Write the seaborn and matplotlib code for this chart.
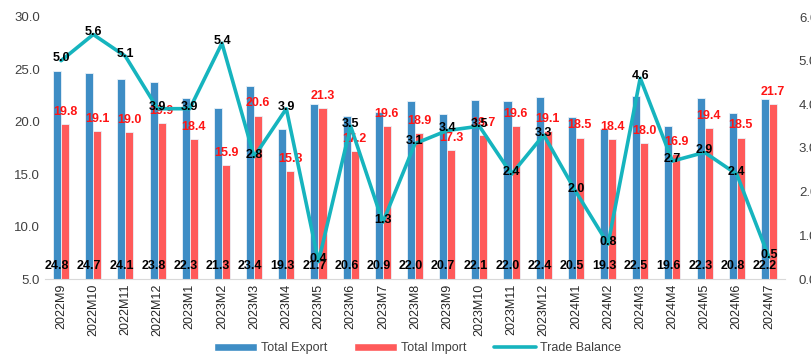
import numpy as np
import pandas as pd
import matplotlib
matplotlib.use('Agg')
import matplotlib.pyplot as plt
import seaborn as sns
from matplotlib.patches import Patch
from matplotlib.lines import Line2D

periods = ['2022M9', '2022M10', '2022M11', '2022M12', '2023M1', '2023M2', '2023M3', '2023M4',
           '2023M5', '2023M6', '2023M7', '2023M8', '2023M9', '2023M10', '2023M11', '2023M12',
           '2024M1', '2024M2', '2024M3', '2024M4', '2024M5', '2024M6', '2024M7']
total_export = [24.8, 24.7, 24.1, 23.8, 22.3, 21.3, 23.4, 19.3, 21.7, 20.6, 20.9, 22.0,
                20.7, 22.1, 22.0, 22.4, 20.5, 19.3, 22.5, 19.6, 22.3, 20.8, 22.2]
total_import = [19.8, 19.1, 19.0, 19.9, 18.4, 15.9, 20.6, 15.3, 21.3, 17.2, 19.6, 18.9,
                17.3, 18.7, 19.6, 19.1, 18.5, 18.4, 18.0, 16.9, 19.4, 18.5, 21.7]
trade_balance = [5.0, 5.6, 5.1, 3.9, 3.9, 5.4, 2.8, 3.9, 0.4, 3.5, 1.3, 3.1,
                 3.4, 3.5, 2.4, 3.3, 2.0, 0.8, 4.6, 2.7, 2.9, 2.4, 0.5]

c_exp = '#3E8DC5'
c_imp = '#FF5A5A'
c_bal = '#16B4BE'

sns.set_style('white')
plt.rcParams['font.family'] = ['Liberation Sans', 'DejaVu Sans']

df = pd.DataFrame({
    'Period': periods * 2,
    'Value': total_export + total_import,
    'Series': ['Total Export'] * len(periods) + ['Total Import'] * len(periods),
})

fig = plt.figure(figsize=(8.11, 3.62), dpi=100)
ax = fig.add_axes([45 / 811, 1 - 279 / 362, 740 / 811, 262 / 362])

sns.barplot(data=df, x='Period', y='Value', hue='Series', palette=[c_exp, c_imp],
            saturation=1, width=0.5, edgecolor='#eaf2f8', linewidth=0.6, ax=ax, legend=False)

n = len(periods)
pos = np.arange(n)
ax.set_ylim(5, 30)
ax.set_yticks(np.arange(5, 31, 5))
ax.set_yticklabels([f'{v:.1f}' for v in np.arange(5, 31, 5)])
ax.set_xlabel('')
ax.set_ylabel('')
ax.tick_params(axis='x', rotation=90, labelsize=9, labelcolor='#262626', length=0)
ax.tick_params(axis='y', labelsize=9.5, labelcolor='#404040', length=0)
for s in ['top', 'right', 'left']:
    ax.spines[s].set_visible(False)
ax.spines['bottom'].set_color('#d9d9d9')

# export labels along the bottom, import labels above bars
for i in range(n):
    ax.text(pos[i] - 0.125, 6.2, f'{total_export[i]:.1f}', ha='center', va='center',
            fontsize=9, fontweight='bold', color='black')
    ax.text(pos[i] + 0.125, total_import[i] + 1.15, f'{total_import[i]:.1f}', ha='center',
            va='center', fontsize=9, fontweight='bold', color='#FF1414')

ax2 = ax.twinx()
sns.lineplot(x=pos, y=trade_balance, color=c_bal, linewidth=2.6, ax=ax2)
ax2.set_ylim(0, 6)
ax2.set_yticks(np.arange(0, 7, 1))
ax2.set_yticklabels([f'{v:.1f}' for v in np.arange(0, 7, 1)])
ax2.tick_params(axis='y', labelsize=9.5, labelcolor='#404040', length=0, pad=10)
for s in ['top', 'right', 'left', 'bottom']:
    ax2.spines[s].set_visible(False)
for i in range(n):
    ax2.text(pos[i], trade_balance[i] + 0.05, f'{trade_balance[i]:.1f}', ha='center',
             va='center', fontsize=9, fontweight='bold', color='black')

ax.set_xlim(-0.5, n - 0.5)
ax2.set_xlim(-0.5, n - 0.5)

handles = [Patch(facecolor=c_exp, label='Total Export'),
           Patch(facecolor=c_imp, label='Total Import'),
           Line2D([0], [0], color=c_bal, linewidth=2.6, label='Trade Balance')]
fig.legend(handles=handles, loc='lower center', bbox_to_anchor=(0.515, -0.01), ncol=3,
           frameon=False, fontsize=9, handlelength=3.4, handleheight=0.6,
           columnspacing=2.2, handletextpad=0.3, labelcolor='#404040')

fig.savefig('out.png', dpi=100)
